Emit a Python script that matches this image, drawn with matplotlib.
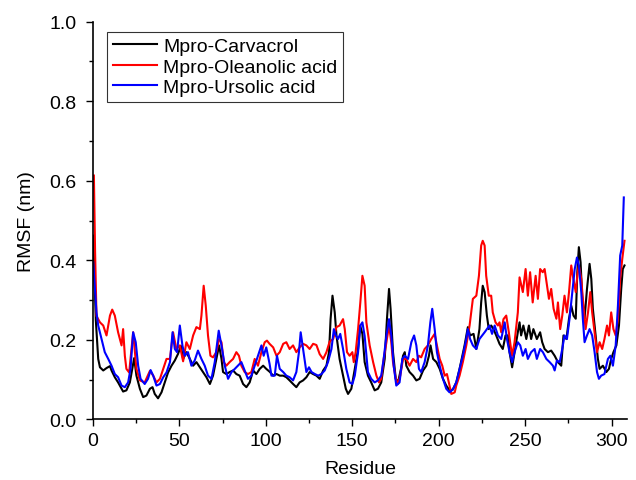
import matplotlib
matplotlib.use("Agg")
import matplotlib.pyplot as plt
from matplotlib.ticker import MultipleLocator

plt.rcParams['font.family'] = ['Liberation Sans', 'DejaVu Sans']

# ---- data ----
res_carvacrol = [0.2, 1.7, 3.1, 4.1, 6.0, 7.9, 9.9, 10.8, 12.7, 14.6, 17.5, 19.4, 21.4, 23.9, 25.2, 27.2, 29.1, 31.0,
                 33.0, 34.5, 35.8, 37.7, 39.7, 41.6, 43.5, 45.5, 47.4, 49.3, 50.9, 52.2, 54.1, 56.1, 58.0, 59.9, 61.9,
                 63.8, 65.7, 67.7, 69.5, 71.4, 73.0, 74.4, 75.3, 77.2, 79.1, 81.1, 83.0, 84.9, 86.9, 88.8, 90.7, 92.7,
                 94.6, 96.5, 98.5, 100.3, 102.2, 104.3, 106.2, 108.1, 110.1, 111.9, 113.8, 115.8, 117.7, 119.6, 121.6,
                 123.5, 125.4, 127.4, 129.3, 131.2, 133.2, 135.1, 136.6, 137.5, 138.6, 139.9, 140.9, 142.7, 144.7,
                 146.3, 147.6, 149.5, 151.5, 153.4, 154.6, 155.9, 157.2, 159.1, 161.0, 163.0, 164.9, 166.8, 168.8,
                 170.1, 171.3, 172.2, 173.6, 175.2, 176.5, 178.4, 179.4, 180.4, 181.3, 183.2, 185.2, 187.1, 189.0,
                 191.0, 192.9, 194.4, 195.3, 196.8, 198.7, 200.6, 202.5, 204.4, 206.3, 208.2, 210.2, 212.1, 215.0,
                 216.9, 218.2, 220.2, 221.8, 223.6, 224.6, 225.5, 226.6, 227.9, 229.0, 230.4, 231.7, 233.3, 235.2,
                 237.1, 238.7, 240.0, 241.0, 242.5, 243.9, 245.8, 246.8, 247.7, 249.0, 250.7, 252.2, 253.5, 254.8,
                 256.8, 258.7, 259.9, 261.3, 263.2, 265.1, 267.1, 269.0, 270.9, 272.2, 273.9, 275.4, 276.7, 278.0,
                 279.3, 280.2, 281.1, 282.1, 283.0, 284.4, 285.8, 287.3, 288.3, 289.2, 290.8, 292.1, 293.1, 295.0,
                 297.0, 298.5, 299.8, 301.1, 302.8, 304.3, 305.6, 306.5, 307.5]
rmsf_carvacrol = [0.462, 0.250, 0.152, 0.131, 0.123, 0.129, 0.134, 0.123, 0.106, 0.093, 0.070, 0.073, 0.093, 0.154,
                  0.110, 0.077, 0.056, 0.060, 0.077, 0.081, 0.064, 0.053, 0.068, 0.093, 0.118, 0.135, 0.148, 0.165,
                  0.185, 0.152, 0.169, 0.152, 0.135, 0.144, 0.131, 0.119, 0.106, 0.089, 0.110, 0.152, 0.186, 0.152,
                  0.119, 0.114, 0.119, 0.123, 0.114, 0.110, 0.089, 0.081, 0.093, 0.123, 0.114, 0.127, 0.135, 0.127,
                  0.120, 0.110, 0.114, 0.110, 0.110, 0.106, 0.098, 0.089, 0.081, 0.093, 0.098, 0.106, 0.119, 0.114,
                  0.110, 0.102, 0.123, 0.135, 0.169, 0.252, 0.311, 0.269, 0.211, 0.152, 0.110, 0.077, 0.064, 0.077,
                  0.127, 0.177, 0.236, 0.215, 0.144, 0.110, 0.093, 0.073, 0.077, 0.093, 0.152, 0.252, 0.328, 0.278,
                  0.169, 0.102, 0.093, 0.131, 0.160, 0.169, 0.135, 0.119, 0.110, 0.098, 0.102, 0.123, 0.135, 0.160,
                  0.186, 0.152, 0.144, 0.127, 0.102, 0.085, 0.073, 0.075, 0.093, 0.127, 0.186, 0.232, 0.211, 0.215,
                  0.177, 0.227, 0.294, 0.336, 0.320, 0.261, 0.227, 0.236, 0.227, 0.211, 0.190, 0.177, 0.211, 0.211,
                  0.169, 0.131, 0.169, 0.219, 0.244, 0.211, 0.236, 0.202, 0.236, 0.202, 0.227, 0.202, 0.219, 0.194,
                  0.177, 0.169, 0.173, 0.160, 0.144, 0.135, 0.211, 0.202, 0.253, 0.286, 0.261, 0.253, 0.370, 0.433,
                  0.395, 0.311, 0.253, 0.328, 0.391, 0.353, 0.278, 0.211, 0.152, 0.127, 0.135, 0.119, 0.127, 0.152,
                  0.169, 0.186, 0.236, 0.328, 0.378, 0.387]

res_oleanolic = [0.6, 1.3, 2.1, 4.1, 6.0, 7.9, 9.9, 11.2, 12.7, 14.6, 16.6, 17.5, 18.5, 19.4, 21.0, 23.3, 25.2, 27.2,
                 30.0, 33.0, 34.9, 36.8, 38.8, 40.7, 42.6, 44.6, 46.4, 48.3, 50.3, 52.2, 54.1, 56.1, 58.0, 59.9, 61.9,
                 62.8, 64.1, 65.3, 66.6, 68.0, 69.5, 71.4, 73.0, 74.4, 75.7, 77.2, 79.1, 81.1, 83.0, 84.5, 85.9, 87.8,
                 89.7, 91.7, 93.6, 95.5, 97.5, 99.4, 100.7, 102.2, 104.3, 106.2, 108.1, 110.1, 111.9, 113.8, 115.8,
                 117.7, 119.6, 121.6, 123.5, 125.4, 127.4, 129.3, 131.2, 133.2, 135.1, 137.0, 139.0, 140.9, 142.7,
                 144.7, 145.7, 147.0, 148.5, 150.1, 150.9, 152.0, 153.4, 154.7, 155.9, 157.2, 158.2, 160.1, 162.1,
                 164.0, 165.5, 166.8, 168.2, 169.8, 171.3, 172.6, 173.6, 175.2, 176.5, 177.8, 179.4, 181.3, 183.2,
                 185.2, 187.1, 188.6, 189.9, 191.9, 193.8, 195.7, 197.7, 199.0, 200.6, 202.1, 203.5, 204.8, 206.3,
                 207.3, 209.3, 210.2, 212.1, 214.0, 216.0, 217.9, 219.8, 221.8, 223.3, 224.6, 225.5, 226.6, 227.5,
                 229.0, 230.4, 231.3, 232.9, 234.3, 235.2, 236.2, 237.5, 239.1, 240.6, 241.6, 242.5, 243.9, 245.8,
                 246.8, 247.7, 248.7, 250.3, 251.6, 252.9, 254.4, 256.1, 257.4, 258.7, 260.2, 261.3, 262.7, 263.8,
                 265.1, 266.5, 268.1, 269.0, 270.3, 271.5, 272.8, 274.2, 275.4, 276.7, 277.6, 279.3, 280.2, 281.1,
                 282.5, 283.4, 285.0, 286.4, 287.7, 288.8, 290.2, 291.6, 293.1, 294.6, 295.9, 297.4, 298.5, 299.8,
                 301.1, 302.4, 303.7, 305.0, 306.2, 307.5]
rmsf_oleanolic = [0.613, 0.420, 0.260, 0.244, 0.236, 0.211, 0.261, 0.276, 0.261, 0.219, 0.186, 0.227, 0.160, 0.127,
                  0.118, 0.219, 0.127, 0.098, 0.093, 0.122, 0.110, 0.093, 0.102, 0.127, 0.152, 0.152, 0.219, 0.177,
                  0.186, 0.146, 0.194, 0.177, 0.211, 0.232, 0.227, 0.261, 0.336, 0.286, 0.211, 0.160, 0.156, 0.169,
                  0.202, 0.194, 0.144, 0.135, 0.144, 0.152, 0.169, 0.160, 0.135, 0.119, 0.114, 0.119, 0.152, 0.135,
                  0.169, 0.194, 0.198, 0.190, 0.181, 0.160, 0.169, 0.190, 0.194, 0.177, 0.186, 0.169, 0.181, 0.190,
                  0.186, 0.177, 0.190, 0.187, 0.164, 0.152, 0.169, 0.196, 0.202, 0.232, 0.236, 0.252, 0.227, 0.169,
                  0.160, 0.169, 0.144, 0.169, 0.227, 0.294, 0.361, 0.336, 0.244, 0.186, 0.144, 0.110, 0.093, 0.102,
                  0.152, 0.194, 0.236, 0.194, 0.144, 0.102, 0.089, 0.110, 0.152, 0.152, 0.135, 0.152, 0.144, 0.160,
                  0.156, 0.177, 0.186, 0.202, 0.215, 0.186, 0.152, 0.135, 0.110, 0.114, 0.085, 0.064, 0.068, 0.085,
                  0.110, 0.144, 0.186, 0.236, 0.303, 0.311, 0.361, 0.437, 0.449, 0.437, 0.361, 0.311, 0.311, 0.269,
                  0.244, 0.236, 0.244, 0.219, 0.252, 0.261, 0.219, 0.186, 0.160, 0.194, 0.269, 0.357, 0.340, 0.320,
                  0.378, 0.311, 0.370, 0.294, 0.361, 0.303, 0.378, 0.370, 0.378, 0.336, 0.303, 0.328, 0.278, 0.253,
                  0.294, 0.227, 0.261, 0.311, 0.269, 0.320, 0.387, 0.361, 0.320, 0.361, 0.387, 0.353, 0.303, 0.227,
                  0.269, 0.320, 0.269, 0.219, 0.169, 0.194, 0.177, 0.202, 0.236, 0.211, 0.269, 0.227, 0.211, 0.253,
                  0.353, 0.403, 0.449]

res_ursolic = [0.2, 1.1, 2.1, 3.1, 5.0, 6.9, 8.9, 10.8, 12.7, 14.6, 16.6, 18.5, 20.4, 21.8, 23.3, 24.8, 26.2, 27.6,
               30.0, 31.9, 33.4, 34.9, 36.8, 38.8, 40.7, 42.6, 44.6, 46.1, 47.4, 48.7, 50.3, 51.8, 53.1, 55.0, 57.0,
               58.9, 60.8, 62.8, 64.7, 66.6, 68.6, 70.5, 72.8, 74.4, 76.3, 78.2, 80.2, 82.1, 83.9, 85.9, 87.8, 89.7,
               91.7, 93.6, 95.5, 97.5, 98.8, 100.3, 102.2, 103.3, 105.2, 106.5, 108.1, 110.1, 111.9, 113.8, 115.8,
               117.7, 119.2, 120.2, 121.6, 123.5, 125.0, 126.5, 128.4, 130.3, 132.2, 134.1, 136.0, 138.0, 139.4,
               140.5, 141.8, 143.1, 144.7, 146.6, 148.5, 150.1, 151.5, 153.4, 154.7, 155.9, 157.2, 159.1, 161.0,
               163.0, 164.9, 166.8, 168.2, 169.8, 171.3, 172.6, 174.0, 175.5, 177.4, 179.0, 180.4, 182.3, 184.2,
               185.8, 187.1, 188.6, 189.9, 191.9, 193.8, 195.2, 196.3, 197.7, 199.0, 200.6, 202.5, 204.4, 206.3,
               208.2, 210.2, 212.1, 214.0, 216.0, 216.9, 218.2, 219.8, 221.8, 223.6, 225.2, 226.6, 227.9, 229.4,
               230.9, 232.4, 234.3, 236.2, 238.2, 239.5, 241.0, 242.5, 243.9, 245.8, 247.2, 248.7, 250.3, 251.6,
               253.5, 255.5, 256.8, 258.7, 260.3, 262.3, 264.2, 266.1, 267.1, 268.4, 270.0, 271.5, 272.8, 274.2,
               275.7, 277.3, 278.7, 280.0, 281.1, 282.5, 283.4, 284.4, 285.8, 287.3, 288.8, 290.2, 291.6, 292.7,
               294.0, 295.9, 297.9, 299.3, 300.8, 302.4, 303.7, 305.0, 306.2, 307.1]
rmsf_ursolic = [0.395, 0.336, 0.269, 0.236, 0.202, 0.169, 0.152, 0.135, 0.114, 0.106, 0.085, 0.081, 0.093, 0.127,
                0.219, 0.194, 0.135, 0.102, 0.089, 0.102, 0.124, 0.110, 0.085, 0.089, 0.106, 0.118, 0.144, 0.219,
                0.177, 0.169, 0.236, 0.186, 0.160, 0.169, 0.135, 0.148, 0.173, 0.152, 0.135, 0.110, 0.102, 0.144,
                0.223, 0.186, 0.135, 0.102, 0.119, 0.127, 0.135, 0.144, 0.123, 0.102, 0.110, 0.135, 0.160, 0.186,
                0.160, 0.181, 0.140, 0.110, 0.110, 0.160, 0.127, 0.119, 0.110, 0.106, 0.098, 0.119, 0.169, 0.219,
                0.177, 0.119, 0.131, 0.119, 0.114, 0.110, 0.114, 0.123, 0.144, 0.177, 0.227, 0.211, 0.202, 0.215,
                0.177, 0.127, 0.093, 0.089, 0.110, 0.169, 0.236, 0.244, 0.210, 0.119, 0.102, 0.093, 0.098, 0.110,
                0.152, 0.211, 0.252, 0.211, 0.135, 0.085, 0.093, 0.152, 0.160, 0.152, 0.194, 0.211, 0.186, 0.127,
                0.119, 0.144, 0.186, 0.244, 0.278, 0.227, 0.169, 0.135, 0.102, 0.077, 0.068, 0.075, 0.093, 0.127,
                0.160, 0.202, 0.227, 0.202, 0.186, 0.177, 0.202, 0.211, 0.219, 0.227, 0.236, 0.215, 0.236, 0.211,
                0.202, 0.244, 0.202, 0.169, 0.144, 0.169, 0.194, 0.186, 0.160, 0.177, 0.152, 0.169, 0.177, 0.152,
                0.177, 0.169, 0.152, 0.144, 0.135, 0.123, 0.148, 0.144, 0.177, 0.211, 0.202, 0.253, 0.320, 0.378,
                0.407, 0.387, 0.320, 0.253, 0.194, 0.211, 0.227, 0.211, 0.169, 0.119, 0.102, 0.110, 0.114, 0.152,
                0.160, 0.135, 0.186, 0.286, 0.412, 0.437, 0.558]

series_labels = ["Mpro-Carvacrol", "Mpro-Oleanolic acid", "Mpro-Ursolic acid"]
series_colors = ["black", "red", "blue"]
x_ticks = [0, 50, 100, 150, 200, 250, 300]
y_ticks = [0.0, 0.2, 0.4, 0.6, 0.8, 1.0]

# ---- figure ----
fig = plt.figure(figsize=(6.36, 4.81), dpi=100)
ax = fig.add_axes([0.146, 0.126, 0.840, 0.827])

for xs, ys, lab, col in zip([res_carvacrol, res_oleanolic, res_ursolic],
                            [rmsf_carvacrol, rmsf_oleanolic, rmsf_ursolic],
                            series_labels, series_colors):
    ax.plot(xs, ys, color=col, lw=1.5, label=lab)

ax.set_xlim(0, 309)
ax.set_ylim(0, 1.0)
ax.set_xticks(x_ticks)
ax.set_yticks(y_ticks)
ax.set_yticklabels([f"{v:.1f}" for v in y_ticks])
ax.xaxis.set_minor_locator(MultipleLocator(25))
ax.yaxis.set_minor_locator(MultipleLocator(0.1))
ax.tick_params(which='major', direction='out', length=5, width=1.0, labelsize=14, colors='black', pad=4)
ax.tick_params(axis='y', which='major', pad=7)
ax.tick_params(which='minor', direction='out', length=3, width=1.0)
for s in ['top', 'right']:
    ax.spines[s].set_visible(False)
for s in ['left', 'bottom']:
    ax.spines[s].set_linewidth(1.2)

ax.set_xlabel("Residue", fontsize=14, labelpad=8)
ax.set_ylabel("RMSF (nm)", fontsize=14, labelpad=10)

leg = ax.legend(loc='upper left', bbox_to_anchor=(0.026, 0.975), fontsize=14, frameon=True,
                fancybox=False, edgecolor='black', handlelength=2.3, handletextpad=0.3,
                borderpad=0.3, labelspacing=0.15, borderaxespad=0)
leg.get_frame().set_linewidth(0.8)

fig.savefig("out.png", dpi=100)
